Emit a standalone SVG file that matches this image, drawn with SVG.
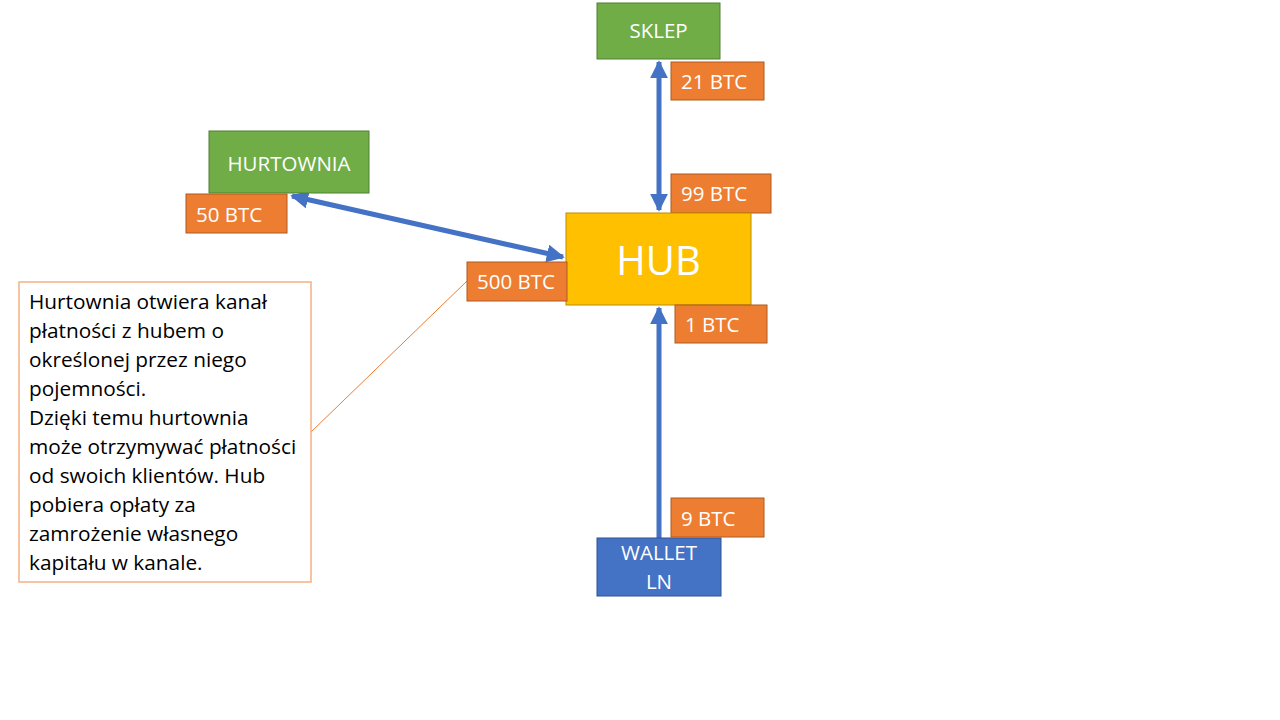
<svg xmlns="http://www.w3.org/2000/svg" width="1280" height="720" viewBox="0 0 1280 720">
<defs>
<style>
.g{fill:#70AD47;stroke:#507E32;stroke-width:1}
.o{fill:#ED7D31;stroke:#AE5A21;stroke-width:1}
.t{font-family:"Open Sans","Liberation Sans",sans-serif;fill:#ffffff}
.lbl{font-size:20.5px}
.c{stroke:#4472C4;stroke-width:5;fill:none}
.note{font-family:"Open Sans","Liberation Sans",sans-serif;font-size:20.8px;fill:#000000}
</style>
<marker id="ah" viewBox="0 0 10 10" refX="9" refY="5" markerWidth="3.6" markerHeight="3.6" orient="auto-start-reverse" markerUnits="strokeWidth">
<path d="M0,0 L10,5 L0,10 z" fill="#4472C4"/>
</marker>
</defs>
<rect width="1280" height="720" fill="#ffffff"/>
<g id="connectors">
<line class="c" x1="659" y1="62" x2="659" y2="210" marker-start="url(#ah)" marker-end="url(#ah)"/>
<line class="c" x1="659" y1="538" x2="659" y2="308" marker-end="url(#ah)"/>
<line class="c" x1="292" y1="196" x2="563" y2="257" marker-start="url(#ah)" marker-end="url(#ah)"/>
<line x1="311" y1="432" x2="467" y2="281" stroke="#ED7D31" stroke-width="1"/>
</g>
<g id="sklep">
<rect class="g" x="597" y="3" width="123" height="56"/>
<text class="t lbl" x="658.5" y="38" text-anchor="middle">SKLEP</text>
</g>
<g id="btc21">
<rect class="o" x="671" y="62" width="93" height="38"/>
<text class="t lbl" x="681" y="89">21 BTC</text>
</g>
<g id="btc99">
<rect class="o" x="671" y="174" width="100" height="39"/>
<text class="t lbl" x="681" y="201">99 BTC</text>
</g>
<g id="hub">
<rect x="566" y="213" width="185" height="92" fill="#FFC000" stroke="#BC8C00" stroke-width="1"/>
<text class="t" x="658.5" y="275" text-anchor="middle" font-size="40">HUB</text>
</g>
<g id="btc500">
<rect class="o" x="467" y="262" width="100" height="39"/>
<text class="t lbl" x="477" y="289">500 BTC</text>
</g>
<g id="btc1">
<rect class="o" x="675" y="305" width="92" height="38"/>
<text class="t lbl" x="685" y="332">1 BTC</text>
</g>
<g id="hurtownia">
<rect class="g" x="209" y="131" width="160" height="62"/>
<text class="t lbl" x="289" y="171" text-anchor="middle">HURTOWNIA</text>
</g>
<g id="btc50">
<rect class="o" x="186" y="194" width="101" height="39"/>
<text class="t lbl" x="196" y="222">50 BTC</text>
</g>
<g id="btc9">
<rect class="o" x="671" y="498" width="93" height="39"/>
<text class="t lbl" x="681" y="526">9 BTC</text>
</g>
<g id="wallet">
<rect x="597" y="538" width="124" height="58" fill="#4472C4" stroke="#2F528F" stroke-width="1"/>
<text class="t lbl" x="659" y="560" text-anchor="middle">WALLET</text>
<text class="t lbl" x="659" y="589" text-anchor="middle">LN</text>
</g>
<g id="note">
<rect x="19" y="282" width="292" height="300" fill="#ffffff" stroke="#F4B183" stroke-width="1.5"/>
<text class="note" x="29" y="309">Hurtownia otwiera kanał</text>
<text class="note" x="29" y="338">płatności z hubem o</text>
<text class="note" x="29" y="367">określonej przez niego</text>
<text class="note" x="29" y="396">pojemności.</text>
<text class="note" x="29" y="425">Dzięki temu hurtownia</text>
<text class="note" x="29" y="454">może otrzymywać płatności</text>
<text class="note" x="29" y="483">od swoich klientów. Hub</text>
<text class="note" x="29" y="512">pobiera opłaty za</text>
<text class="note" x="29" y="541">zamrożenie własnego</text>
<text class="note" x="29" y="570">kapitału w kanale.</text>
</g>
</svg>
